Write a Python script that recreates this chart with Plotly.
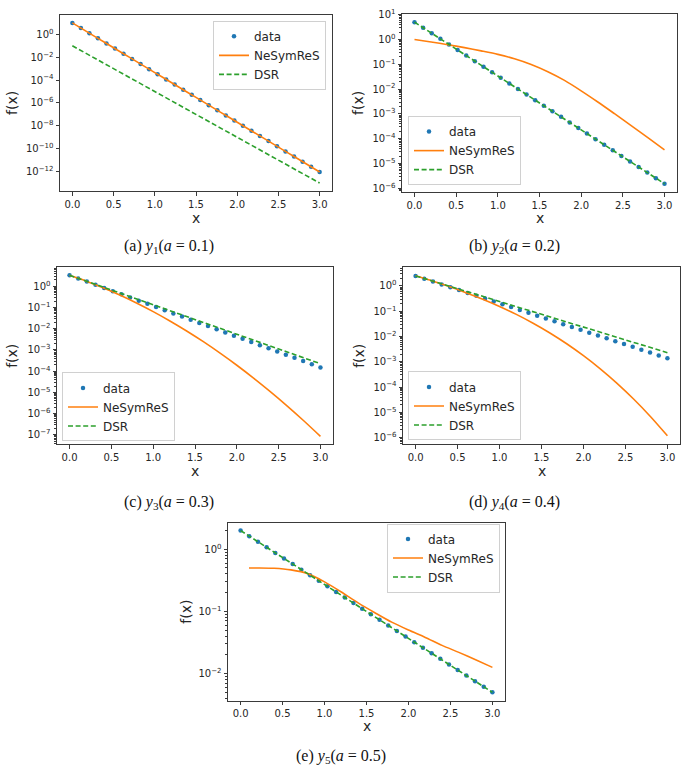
import math

import plotly.graph_objects as go

W, H = 685, 770

# x positions of the sampled points (30 points on [0, 3]) and of the fitted curves
X_DATA = [0.0, 0.1034, 0.2069, 0.3103, 0.4138, 0.5172, 0.6207, 0.7241, 0.8276, 0.931,
          1.0345, 1.1379, 1.2414, 1.3448, 1.4483, 1.5517, 1.6552, 1.7586, 1.8621, 1.9655,
          2.069, 2.1724, 2.2759, 2.3793, 2.4828, 2.5862, 2.6897, 2.7931, 2.8966, 3.0]
X_LINE = [0.0, 0.2, 0.4, 0.6, 0.8, 1.0, 1.2, 1.4, 1.6, 1.8, 2.0, 2.2, 2.4, 2.6, 2.8, 3.0]
X_LINE_E = [0.1, 0.2, 0.4, 0.6, 0.8, 1.0, 1.2, 1.4, 1.6, 1.8, 2.0, 2.2, 2.4, 2.6, 2.8, 3.0]

X_TICKS = [0.0, 0.5, 1.0, 1.5, 2.0, 2.5, 3.0]
X_TICK_TEXT = ["0.0", "0.5", "1.0", "1.5", "2.0", "2.5", "3.0"]

SERIES_NAMES = ["data", "NeSymReS", "DSR"]

# (a) y1, a = 0.1
DATA_A = [10.0, 3.553, 1.263, 0.4489, 0.1595, 0.0567, 0.02015, 7.163e-3, 2.545e-3, 9.046e-4,
          3.215e-4, 1.143e-4, 4.062e-5, 1.444e-5, 5.132e-6, 1.824e-6, 6.482e-7, 2.304e-7, 8.188e-8, 2.91e-8,
          1.034e-8, 3.676e-9, 1.306e-9, 4.643e-10, 1.65e-10, 5.864e-11, 2.084e-11, 7.408e-12, 2.633e-12, 9.358e-13]
NESYM_A = [10.0, 1.353, 0.1832, 0.02479, 3.355e-3, 4.54e-4, 6.144e-5, 8.315e-6, 1.125e-6, 1.523e-7,
           2.061e-8, 2.789e-9, 3.775e-10, 5.109e-11, 6.914e-12, 9.358e-13]
DSR_A = [0.1, 1.585e-2, 2.512e-3, 3.981e-4, 6.31e-5, 1e-5, 1.585e-6, 2.512e-7, 3.981e-8, 6.31e-9,
         1e-9, 1.585e-10, 2.512e-11, 3.981e-12, 6.31e-13, 1e-13]

# (b) y2, a = 0.2
DATA_B = [5.0, 2.981, 1.777, 1.059, 0.6316, 0.3766, 0.2245, 0.1338, 0.07978, 0.04757,
          0.02836, 0.0169, 0.01008, 6.009e-3, 3.582e-3, 2.136e-3, 1.273e-3, 7.591e-4, 4.525e-4, 2.698e-4,
          1.608e-4, 9.586e-5, 5.715e-5, 3.407e-5, 2.031e-5, 1.211e-5, 7.22e-6, 4.304e-6, 2.566e-6, 1.53e-6]
NESYM_B = [1.0, 0.794, 0.617, 0.468, 0.347, 0.251, 0.166, 0.0977, 0.0501, 0.0224,
           8.51e-3, 3.02e-3, 1.02e-3, 3.39e-4, 1.1e-4, 3.55e-5]
DSR_B = [5.0, 1.839, 0.6767, 0.2489, 0.09158, 0.03369, 0.01239, 4.559e-3, 1.677e-3, 6.17e-4,
         2.27e-4, 8.351e-5, 3.072e-5, 1.13e-5, 4.158e-6, 1.53e-6]

# (c) y3, a = 0.3
DATA_C = [3.333, 2.361, 1.673, 1.185, 0.8392, 0.5944, 0.421, 0.2982, 0.2112, 0.1496,
          0.106, 0.07508, 0.05318, 0.03767, 0.02668, 0.0189, 0.01339, 9.484e-3, 6.718e-3, 4.758e-3,
          3.371e-3, 2.388e-3, 1.691e-3, 1.198e-3, 8.486e-4, 6.011e-4, 4.258e-4, 3.016e-4, 2.136e-4, 1.513e-4]
NESYM_C = [3.31, 1.753, 0.86, 0.391, 0.165, 0.0646, 0.0234, 7.88e-3, 2.46e-3, 7.11e-4,
           1.91e-4, 4.74e-5, 1.09e-5, 2.34e-6, 4.63e-7, 8.5e-8]
DSR_C = [3.334, 1.758, 0.9268, 0.4887, 0.2576, 0.1358, 0.07161, 0.03776, 0.01991, 0.0105,
         5.534e-3, 2.917e-3, 1.538e-3, 8.11e-4, 4.276e-4, 2.254e-4]

# (d) y4, a = 0.4
DATA_D = [2.5, 1.93, 1.49, 1.151, 0.8886, 0.6861, 0.5297, 0.409, 0.3158, 0.2438,
          0.1883, 0.1454, 0.1122, 0.08667, 0.06691, 0.05166, 0.03989, 0.0308, 0.02378, 0.01836,
          0.01418, 0.01095, 8.451e-3, 6.525e-3, 5.038e-3, 3.89e-3, 3.003e-3, 2.319e-3, 1.79e-3, 1.383e-3]
NESYM_D = [2.512, 1.564, 0.942, 0.5444, 0.299, 0.1549, 0.07491, 0.03355, 0.01379, 5.156e-3,
           1.738e-3, 5.236e-4, 1.397e-4, 3.274e-5, 6.676e-6, 1.175e-6]
DSR_D = [2.5, 1.568, 0.9835, 0.6169, 0.3869, 0.2427, 0.1522, 0.09546, 0.05988, 0.03756,
         0.02355, 0.01477, 9.265e-3, 5.811e-3, 3.645e-3, 2.286e-3]

# (e) y5, a = 0.5
DATA_E = [2.0, 1.626, 1.322, 1.075, 0.874, 0.7108, 0.5779, 0.4699, 0.3821, 0.3107,
          0.2526, 0.2054, 0.167, 0.1358, 0.1104, 0.08978, 0.073, 0.05935, 0.04826, 0.03924,
          0.0319, 0.02594, 0.02109, 0.01715, 0.01395, 0.01134, 9.222e-3, 7.498e-3, 6.097e-3, 4.958e-3]
NESYM_E = [0.5, 0.5, 0.494, 0.465, 0.405, 0.298, 0.205, 0.137, 0.095, 0.067,
           0.05, 0.038, 0.0283, 0.0218, 0.0166, 0.0125]
DSR_E = [2.0, 1.341, 0.8987, 0.6024, 0.4038, 0.2707, 0.1814, 0.1216, 0.08152, 0.05465,
         0.03663, 0.02456, 0.01646, 0.01104, 7.397e-3, 4.958e-3]

# decades carrying a labelled major tick
DECADES_A = [0, -2, -4, -6, -8, -10, -12]
DECADES_B = [1, 0, -1, -2, -3, -4, -5, -6]
DECADES_C = [0, -1, -2, -3, -4, -5, -6, -7]
DECADES_D = [0, -1, -2, -3, -4, -5, -6]
DECADES_E = [0, -1, -2]

CAPTIONS = [
    "(a) <i>y</i><sub>1</sub>(<i>a</i> = 0.1)",
    "(b) <i>y</i><sub>2</sub>(<i>a</i> = 0.2)",
    "(c) <i>y</i><sub>3</sub>(<i>a</i> = 0.3)",
    "(d) <i>y</i><sub>4</sub>(<i>a</i> = 0.4)",
    "(e) <i>y</i><sub>5</sub>(<i>a</i> = 0.5)",
]

BLUE, ORANGE, GREEN = "#1f77b4", "#ff7f0e", "#2ca02c"
INK = "#262626"
FONT = "DejaVu Sans"

# pixel geometry of each panel: axes box (left, right, top, bottom), log y range,
# legend corner, y-label x, x-label y, caption centre
PANELS = [
    dict(box=(60, 332, 9, 187), yrange=(-13.7, 1.7), minor=False,
         legend=(326, 15, "right", "top"), ylab_x=12, xlab_y=214, cap=(169, 243)),
    dict(box=(402, 677, 8, 188), yrange=(-6.15, 1.03), minor=True,
         legend=(408, 181, "left", "bottom"), ylab_x=358, xlab_y=214, cap=(514, 243)),
    dict(box=(57, 333, 264, 443), yrange=(-7.45, 0.9), minor=True,
         legend=(62, 440, "left", "bottom"), ylab_x=12, xlab_y=470, cap=(169, 502)),
    dict(box=(403, 680, 264, 443), yrange=(-6.27, 0.74), minor=True,
         legend=(408, 439, "left", "bottom"), ylab_x=359, xlab_y=470, cap=(514, 502)),
    dict(box=(228, 505, 522, 702), yrange=(-2.44, 0.43), minor=True,
         legend=(500, 523, "right", "top"), ylab_x=186, xlab_y=728, cap=(341, 758)),
]

SERIES = [
    (X_LINE, DATA_A, NESYM_A, X_LINE, DSR_A, DECADES_A),
    (X_LINE, DATA_B, NESYM_B, X_LINE, DSR_B, DECADES_B),
    (X_LINE, DATA_C, NESYM_C, X_LINE, DSR_C, DECADES_C),
    (X_LINE, DATA_D, NESYM_D, X_LINE, DSR_D, DECADES_D),
    (X_LINE_E, DATA_E, NESYM_E, X_LINE, DSR_E, DECADES_E),
]


def fx(p):
    return p / W


def fy(p):
    return 1 - p / H


def decade_text(n):
    exp = str(n) if n >= 0 else "\u2212" + str(-n)
    return "10<sup>" + exp + "</sup>"


def minor_ticks(lo, hi):
    """Unlabelled ticks at 2..9 x 10^d inside the log range [lo, hi]."""
    vals = []
    for d in range(math.floor(lo), math.ceil(hi) + 1):
        for m in range(2, 10):
            if lo <= d + math.log10(m) <= hi:
                vals.append(m * 10.0 ** d)
    return vals


def add_label(fig, x, y, text, size, family=FONT, angle=0, color=INK):
    """Text placed by its centre at pixel position (x, y)."""
    fig.add_annotation(
        x=fx(x), y=fy(y), xref="paper", yref="paper",
        xanchor="center", yanchor="middle",
        text=text, textangle=angle, showarrow=False,
        font=dict(family=family, size=size, color=color),
    )


fig = go.Figure()

for i, (panel, series) in enumerate(zip(PANELS, SERIES), start=1):
    nes_x, data_y, nes_y, dsr_x, dsr_y, decades = series
    sfx = "" if i == 1 else str(i)
    leg = "legend" + sfx
    xa, ya = "x" + sfx, "y" + sfx

    # data points
    fig.add_trace(go.Scatter(
        x=X_DATA, y=data_y, name=SERIES_NAMES[0], mode="markers",
        marker=dict(color=BLUE, size=4.5, line=dict(width=0)),
        xaxis=xa, yaxis=ya, legend=leg,
    ))
    # NeSymReS fit
    fig.add_trace(go.Scatter(
        x=nes_x, y=nes_y, name=SERIES_NAMES[1], mode="lines",
        line=dict(color=ORANGE, width=1.6, shape="spline", smoothing=0.8),
        xaxis=xa, yaxis=ya, legend=leg,
    ))
    # DSR fit
    fig.add_trace(go.Scatter(
        x=dsr_x, y=dsr_y, name=SERIES_NAMES[2], mode="lines",
        line=dict(color=GREEN, width=1.6, dash="5px,2.6px"),
        xaxis=xa, yaxis=ya, legend=leg,
    ))

    left, right, top, bottom = panel["box"]
    lo, hi = panel["yrange"]
    axis_common = dict(
        showline=True, linecolor="#3a3a3a", linewidth=1, mirror=True,
        ticks="outside", ticklen=3.5, tickwidth=0.8, tickcolor="#3a3a3a",
        showgrid=False, zeroline=False,
        tickfont=dict(family=FONT, size=10, color=INK),
    )
    yaxis = dict(
        axis_common, domain=[fy(bottom), fy(top)], anchor=xa,
        type="log", range=[lo, hi], tickmode="array",
        tickvals=[10.0 ** d for d in decades],
        ticktext=[decade_text(d) for d in decades],
    )
    if panel["minor"]:
        yaxis["minor"] = dict(tickmode="array", tickvals=minor_ticks(lo, hi),
                              ticks="outside", ticklen=2, tickwidth=0.6,
                              tickcolor="#3a3a3a", showgrid=False)
    fig.update_layout({
        "xaxis" + sfx: dict(
            axis_common, domain=[fx(left), fx(right)], anchor=ya,
            range=[-0.15, 3.15], tickmode="array",
            tickvals=X_TICKS, ticktext=X_TICK_TEXT,
        ),
        "yaxis" + sfx: yaxis,
        leg: dict(
            x=fx(panel["legend"][0]), y=fy(panel["legend"][1]),
            xanchor=panel["legend"][2], yanchor=panel["legend"][3],
            bgcolor="rgba(255,255,255,0.85)", bordercolor="#d0d0d0", borderwidth=1,
            font=dict(family=FONT, size=12, color=INK),
            itemwidth=30, tracegroupgap=0,
        ),
    })

    # axis labels and caption
    add_label(fig, panel["ylab_x"], (top + bottom) / 2, "f(x)", 14, angle=-90)
    add_label(fig, (left + right) / 2, panel["xlab_y"], "x", 14)
    add_label(fig, panel["cap"][0], panel["cap"][1], CAPTIONS[i - 1], 16,
              family="Liberation Serif", color="#111111")

fig.update_layout(
    width=W, height=H,
    margin=dict(l=0, r=0, t=0, b=0),
    paper_bgcolor="white", plot_bgcolor="white",
    showlegend=True,
)

# the page body has a default 8px margin; drop it so the figure fills the window
fig.write_html("out.html", config={"displayModeBar": False},
               post_script="document.body.style.margin='0px';")
